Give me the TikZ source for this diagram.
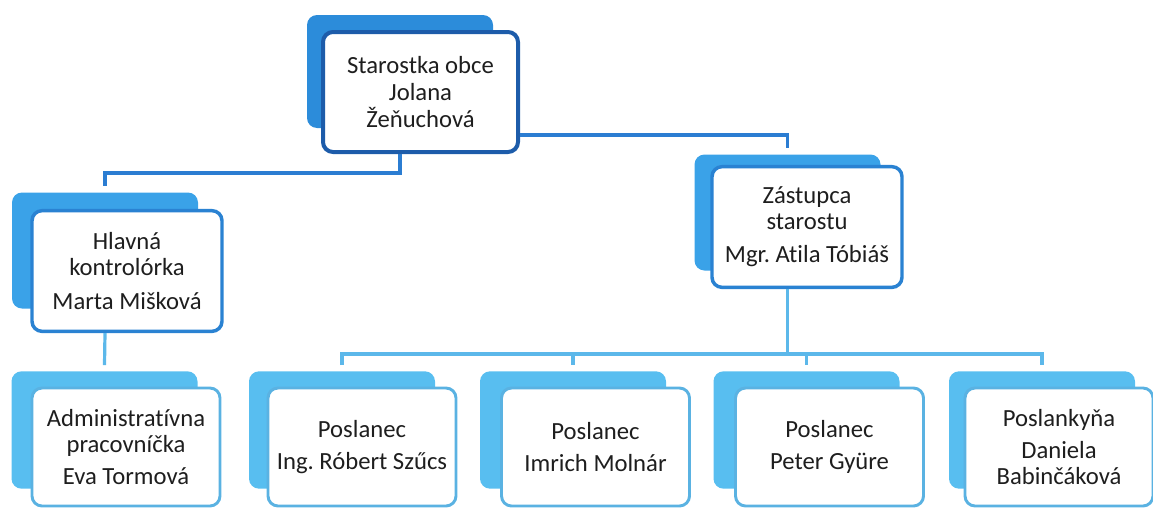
\documentclass[tikz,border=0pt]{standalone}
\usepackage{fontspec}
\setmainfont{Carlito}[Ligatures=NoCommon]
\usetikzlibrary{calc}
\definecolor{shTop}{HTML}{2C8CDA}
\definecolor{bdTop}{HTML}{1D5CAA}
\definecolor{shMid}{HTML}{3AA2E8}
\definecolor{bdMid}{HTML}{2A82D2}
\definecolor{shLow}{HTML}{58BEF0}
\definecolor{bdLow}{HTML}{5AB2E2}
\definecolor{lnTop}{HTML}{2B7DD2}
\definecolor{lnLow}{HTML}{5CB8EA}
\definecolor{txt}{HTML}{1E1E1E}
\tikzset{
  boxtext/.style={align=center, text=txt, font=\fontsize{18.5}{19.5}\selectfont\frenchspacing, inner sep=0pt},
  shadowbox/.style={rounded corners=7.5pt, inner sep=0pt},
  shTopbox/.style={shadowbox, fill=shTop, minimum width=139.5pt, minimum height=84.75pt},
  whTopbox/.style={boxtext, rounded corners=7.5pt, draw=bdTop, line width=3pt, fill=white, minimum width=146.25pt, minimum height=90pt},
  shMidbox/.style={shadowbox, fill=shMid, minimum width=139.5pt, minimum height=87pt},
  whMidbox/.style={boxtext, rounded corners=7.5pt, draw=bdMid, line width=2.6pt, fill=white, minimum width=142.5pt, minimum height=90.5pt},
  shLowbox/.style={shadowbox, fill=shLow, minimum width=139.5pt, minimum height=88pt},
  whLowbox/.style={boxtext, rounded corners=7.5pt, draw=bdLow, line width=2.2pt, fill=white, minimum width=141pt, minimum height=88.5pt},
  connTop/.style={draw=lnTop, line width=2.4pt},
  connLow/.style={draw=lnLow, line width=2.4pt},
}
\begin{document}
\begin{tikzpicture}[x=0.75pt,y=-0.75pt]
\useasboundingbox (0,0) rectangle (1153,507);
% top
\node[shTopbox] (topS) at (400,71.5) {};
\node[whTopbox] (top) at (420.5,92) {Starostka obce\\[0.5pt]Jolana\\[0.5pt]Žeňuchová};
% middle
\node[shMidbox] (hlavS) at (105,250.5) {};
\node[whMidbox] (hlav) at (127,271) {Hlavná\\kontrolórka\\[6pt]Marta Mišková};
\node[shMidbox] (zastS) at (787.5,212.5) {};
\node[whMidbox] (zast) at (807,227) {Zástupca\\starostu\\[5pt]Mgr. Atila Tóbiáš};
% bottom
\node[shLowbox] (admS) at (104.5,430) {};
\node[whLowbox] (adm) at (126,447) {Administratívna\\pracovníčka\\[5pt]Eva Tormová};
\node[shLowbox] (robS) at (342,430) {};
\node[whLowbox] (rob) at (362,447) {Poslanec\\[5pt]Ing. Róbert Szűcs};
\node[shLowbox] (molS) at (573,430) {};
\node[whLowbox] (mol) at (595.5,447) {Poslanec\\[5pt]Imrich Molnár};
\node[shLowbox] (petS) at (806.5,430) {};
\node[whLowbox] (pet) at (829.5,447) {Poslanec\\[5pt]Peter Gyüre};
\node[shLowbox] (danS) at (1042,430) {};
\node[whLowbox] (dan) at (1059,447) {Poslankyňa\\[5pt]Daniela\\Babinčáková};
% connectors
\draw[connTop] (top.south -| topS.center) -- ++(0,19) coordinate (jL) -| ($(hlavS.north)+(0,-6)$);
\draw[connTop] ($(top.south east)+(0,-19)$) -| ($(zastS.north)+(0,-6)$);
\draw[connLow] (hlav.south -| hlavS.center) -- ($(admS.north)+(0,-6)$);
\draw[connLow] (zast.south -| zastS.center) -- ++(0,65) coordinate (bus);
\draw[connLow] ($(robS.north)+(0,-6)$) |- (bus) -| ($(danS.north)+(0,-6)$);
\draw[connLow] (bus -| molS.north) -- ($(molS.north)+(0,-6)$);
\draw[connLow] (bus -| petS.north) -- ($(petS.north)+(0,-6)$);
\end{tikzpicture}
\end{document}
